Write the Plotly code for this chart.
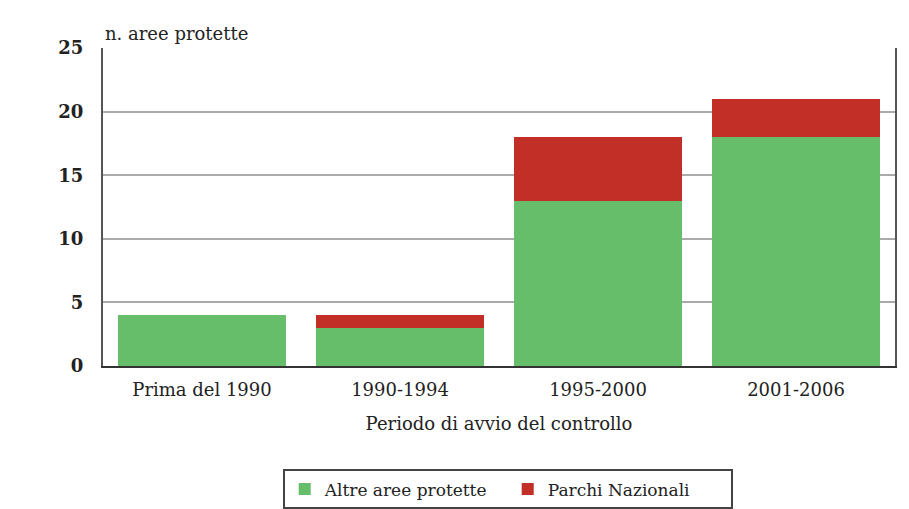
import plotly.graph_objects as go

categories = ["Prima del 1990", "1990-1994", "1995-2000", "2001-2006"]
altre_aree = [4, 3, 13, 18]
parchi_nazionali = [0, 1, 5, 3]
y_ticks = [0, 5, 10, 15, 20, 25]

FONT = "DejaVu Serif"

fig = go.Figure()
fig.add_trace(go.Bar(x=categories, y=altre_aree, name="Altre aree protette",
                     marker=dict(color="#66bd6a", line=dict(width=0))))
fig.add_trace(go.Bar(x=categories, y=parchi_nazionali, name="Parchi Nazionali",
                     marker=dict(color="#c22f26", line=dict(width=0))))

fig.update_layout(
    barmode="stack",
    bargap=0.15,
    width=909, height=509,
    margin=dict(l=103, r=14, t=48, b=143, autoexpand=False),
    paper_bgcolor="white", plot_bgcolor="white",
    font=dict(family=FONT, size=18, color="#222"),
    showlegend=True,
    legend=dict(orientation="h", x=0.511, xanchor="center", y=-0.325, yanchor="top",
                bordercolor="#444", borderwidth=2, font=dict(size=17, family=FONT),
                traceorder="normal", itemsizing="constant", entrywidth=178),
    xaxis=dict(showgrid=False, showline=True, linecolor="#333", linewidth=2,
               mirror=False, ticks="", tickfont=dict(size=18, family=FONT),
               automargin=False, ticklabelstandoff=6,
               title=dict(text="Periodo di avvio del controllo", font=dict(size=18, family=FONT),
                          standoff=19)),
    yaxis=dict(range=[0, 25], tickvals=y_ticks, showgrid=True, gridcolor="#aaaaaa",
               gridwidth=1.5, showline=True, linecolor="#555", linewidth=2, mirror=True,
               ticks="", ticklabelstandoff=14, automargin=False,
               tickfont=dict(size=18, family=FONT, weight="bold"), zeroline=False),
    annotations=[dict(text="n. aree protette", xref="paper", yref="paper", x=0.0, y=1.0,
                      xanchor="left", yanchor="bottom", showarrow=False, yshift=2,
                      font=dict(size=18, family=FONT))],
)

fig.write_html("out.html", config={"displayModeBar": False},
               post_script="document.body.style.margin='0';")
